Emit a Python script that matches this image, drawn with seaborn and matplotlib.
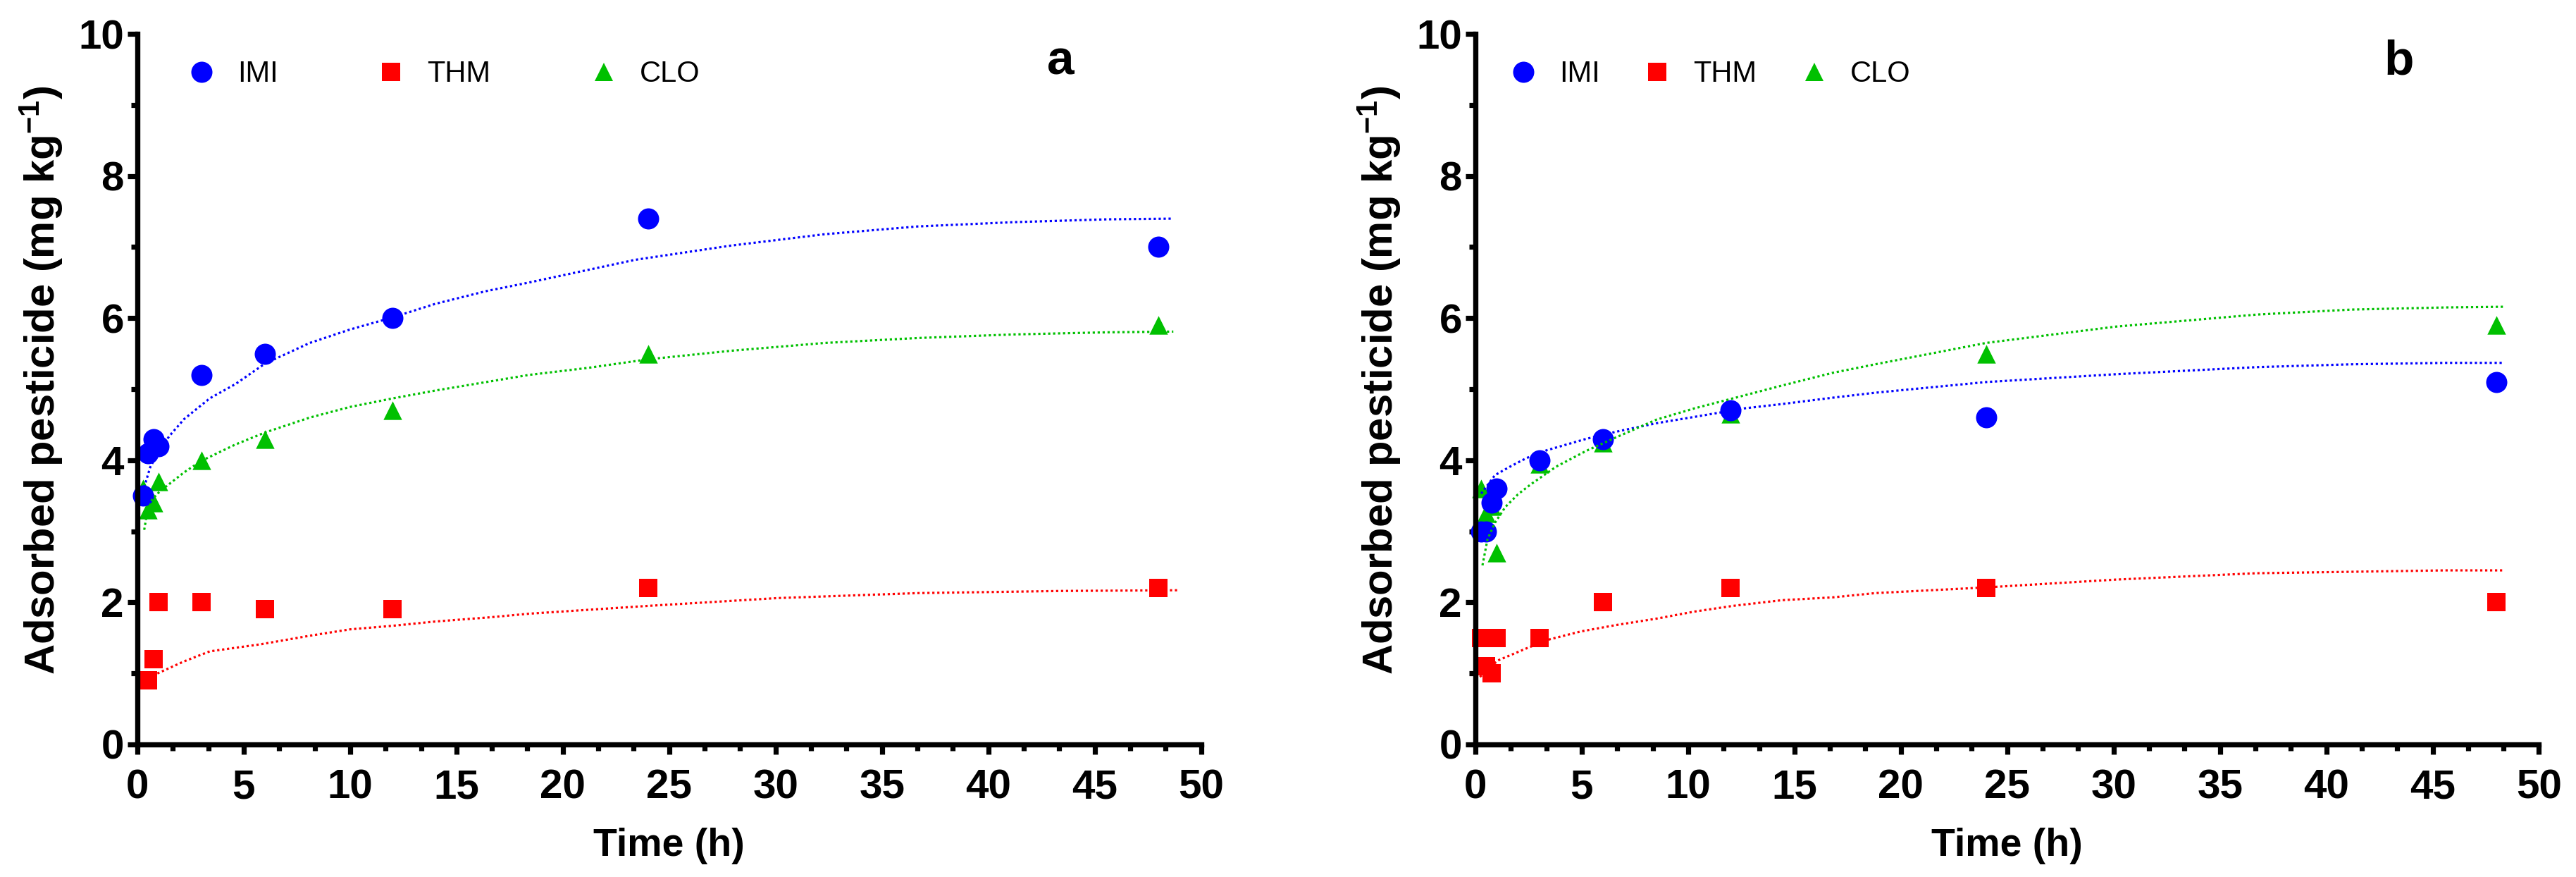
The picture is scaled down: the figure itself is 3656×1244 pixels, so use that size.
import matplotlib
matplotlib.use("Agg")
import matplotlib.pyplot as plt
import seaborn as sns
from matplotlib.lines import Line2D
from matplotlib.ticker import MultipleLocator, AutoMinorLocator

# ---------------- data ----------------
series_names = ["IMI", "THM", "CLO"]

# Panel a
time_a_imi = [0.25, 0.5, 0.75, 1, 3, 6, 12, 24, 48]
imi_a = [3.5, 4.1, 4.3, 4.2, 5.2, 5.5, 6.0, 7.4, 7.0]
time_a_thm = [0.5, 0.75, 1, 3, 6, 12, 24, 48]
thm_a = [0.9, 1.2, 2.0, 2.0, 1.9, 1.9, 2.2, 2.2]
time_a_clo = [0.25, 0.5, 0.75, 1, 3, 6, 12, 24, 48]
clo_a = [3.6, 3.3, 3.4, 3.7, 4.0, 4.3, 4.7, 5.5, 5.9]

# Panel a fitted curves
fit_a_imi_t = [0.32, 0.6, 1.0, 1.5, 2.2, 3.4, 4.6, 6.0, 8.1, 10, 12, 14, 16.4,
               18.4, 23.4, 27.9, 32.3, 36.7, 41.2, 45.6, 48.7]
fit_a_imi_y = [3.62, 3.90, 4.12, 4.34, 4.58, 4.87, 5.07, 5.36, 5.65, 5.84, 6.01,
               6.20, 6.38, 6.50, 6.82, 7.02, 7.18, 7.29, 7.35, 7.39, 7.40]
fit_a_thm_t = [0.2, 0.87, 2.2, 3.4, 5.8, 8.1, 10, 12, 14, 16.6, 18.4, 24,
               30.1, 36.7, 43.4, 48.9]
fit_a_thm_y = [0.83, 0.99, 1.17, 1.31, 1.41, 1.53, 1.62, 1.67, 1.73, 1.79, 1.84,
               1.95, 2.06, 2.13, 2.16, 2.17]
fit_a_clo_t = [0.32, 0.45, 0.7, 1.05, 2.2, 3.0, 4.6, 6.0, 8.1, 10, 12, 14, 16.4,
               18.4, 21.2, 24, 27.9, 32.3, 36.7, 41.2, 45.6, 48.7]
fit_a_clo_y = [3.02, 3.25, 3.45, 3.56, 3.83, 3.99, 4.22, 4.39, 4.60, 4.75, 4.87,
               4.98, 5.10, 5.20, 5.30, 5.42, 5.54, 5.65, 5.72, 5.77, 5.80, 5.81]

# Panel b
time_b = [0.25, 0.5, 0.75, 1, 3, 6, 12, 24, 48]
imi_b = [3.0, 3.0, 3.4, 3.6, 4.0, 4.3, 4.7, 4.6, 5.1]
thm_b = [1.5, 1.1, 1.0, 1.5, 1.5, 2.0, 2.2, 2.2, 2.0]
clo_b = [3.6, 3.25, 3.35, 2.7, 3.95, 4.25, 4.65, 5.5, 5.9]

fit_b_imi_t = [0.27, 0.92, 1.63, 2.4, 3.35, 5.2, 6.6, 8.5, 10.3, 12.65, 14.4,
               16.8, 18.8, 24, 30.1, 36.75, 41.2, 45.6, 48.3]
fit_b_imi_y = [3.53, 3.79, 3.91, 4.03, 4.14, 4.30, 4.40, 4.52, 4.61, 4.73, 4.79,
               4.88, 4.95, 5.10, 5.21, 5.31, 5.35, 5.37, 5.37]
fit_b_thm_t = [0.21, 1.04, 2.46, 3.5, 4.95, 6.6, 8.5, 10.3, 12.1, 14.4, 16.8,
               18.8, 24, 30.1, 36.75, 41.2, 45.6, 48.3]
fit_b_thm_y = [0.95, 1.18, 1.36, 1.48, 1.59, 1.68, 1.77, 1.87, 1.95, 2.03, 2.07,
               2.13, 2.21, 2.32, 2.41, 2.43, 2.45, 2.45]
fit_b_clo_t = [0.33, 0.57, 0.92, 1.4, 2.0, 2.6, 3.8, 5.2, 6.6, 8.5, 10.3, 12.1,
               14.4, 16.8, 18.8, 24, 30.1, 36.75, 41.2, 45.6, 48.4]
fit_b_clo_y = [2.52, 2.89, 3.12, 3.34, 3.52, 3.66, 3.91, 4.13, 4.32, 4.57, 4.73,
               4.87, 5.05, 5.23, 5.35, 5.65, 5.88, 6.05, 6.12, 6.15, 6.16]

x_ticks = [0, 5, 10, 15, 20, 25, 30, 35, 40, 45, 50]
y_ticks = [0, 2, 4, 6, 8, 10]
panel_letters = ["a", "b"]

# ---------------- style ----------------
sns.set_style("ticks")
plt.rcParams["font.family"] = ["Liberation Sans", "DejaVu Sans"]
plt.rcParams["mathtext.fontset"] = "custom"
plt.rcParams["mathtext.rm"] = "Liberation Sans:bold"
plt.rcParams["mathtext.default"] = "regular"
for key in ["text.color", "axes.labelcolor", "xtick.color", "ytick.color",
            "axes.edgecolor", "xtick.labelcolor", "ytick.labelcolor"]:
    plt.rcParams[key] = "black"

BLUE = "#0000FF"
RED = "#FF0000"
GREEN = "#00C000"
colors = {"IMI": BLUE, "THM": RED, "CLO": GREEN}
markers = {"IMI": "o", "THM": "s", "CLO": "^"}
sizes = {"IMI": 21.6, "THM": 19.4, "CLO": 19.0}

fig = plt.figure(figsize=(36.56, 12.44), dpi=100)
ax_a = fig.add_axes([0.05334, 0.15113, 0.41288, 0.81028])
ax_b = fig.add_axes([0.57276, 0.15113, 0.41288, 0.81028])


def draw_panel(ax, pts, fits, letter, leg_x, colspace):
    # markers: triangles first, squares, circles on top
    for name in ["CLO", "THM", "IMI"]:
        t, v = pts[name]
        sns.scatterplot(x=t, y=v, ax=ax, marker=markers[name],
                        s=sizes[name] ** 2, color=colors[name], linewidth=0,
                        clip_on=False, zorder=2.0 if name != "IMI" else 2.1)
    for name in ["IMI", "THM", "CLO"]:
        t, v = fits[name]
        sns.lineplot(x=t, y=v, ax=ax, color=colors[name], sort=False,
                     estimator=None, linewidth=2.3,
                     linestyle=(0, (1, 1.2)), zorder=2.3)

    ax.set_xlim(0, 50)
    ax.set_ylim(0, 10)
    ax.xaxis.set_major_locator(MultipleLocator(5))
    ax.xaxis.set_minor_locator(AutoMinorLocator(3))
    ax.yaxis.set_major_locator(MultipleLocator(2))
    ax.yaxis.set_minor_locator(AutoMinorLocator(2))
    ax.set_xticks(x_ticks)
    ax.set_yticks(y_ticks)
    sns.despine(ax=ax)
    for sp in ["left", "bottom"]:
        ax.spines[sp].set_linewidth(5.3)
        ax.spines[sp].set_color("black")
    ax.tick_params(which="major", direction="out", length=10.3, width=5.2,
                   labelsize=42, color="black", labelcolor="black")
    ax.tick_params(which="minor", direction="out", length=6.8, width=5.2,
                   color="black")
    ax.tick_params(axis="x", which="major", pad=14.4)
    ax.tick_params(axis="y", which="major", pad=3.4)
    for lab in ax.get_xticklabels() + ax.get_yticklabels():
        lab.set_fontweight("bold")

    ax.set_xlabel("Time (h)", fontsize=40, fontweight="bold", va="baseline",
                  color="black")
    ax.set_ylabel("Adsorbed pesticide (mg kg$^{-1}$)", fontsize=43,
                  fontweight="bold", color="black")
    ax.xaxis.set_label_coords(0.5, -0.157)
    ax.yaxis.set_label_coords(-0.068, 0.513)

    handles = [Line2D([], [], linestyle="none", marker=markers[n],
                      markersize=sizes[n], markerfacecolor=colors[n],
                      markeredgewidth=0, color=colors[n])
               for n in series_names]
    ax.legend(handles, series_names, loc="center left",
              bbox_to_anchor=(leg_x, 9.43), bbox_transform=ax.transData,
              ncol=3, frameon=False, fontsize=30, handlelength=1.0,
              handletextpad=0.73, columnspacing=colspace, borderpad=0,
              borderaxespad=0, markerscale=1, labelcolor="black")

    ax.text(43.4, 9.43, letter, fontsize=50, fontweight="bold",
            ha="center", va="baseline", color="black")


draw_panel(ax_a,
           {"IMI": (time_a_imi, imi_a), "THM": (time_a_thm, thm_a),
            "CLO": (time_a_clo, clo_a)},
           {"IMI": (fit_a_imi_t, fit_a_imi_y), "THM": (fit_a_thm_t, fit_a_thm_y),
            "CLO": (fit_a_clo_t, fit_a_clo_y)},
           panel_letters[0], 2.32, 3.35)

draw_panel(ax_b,
           {"IMI": (time_b, imi_b), "THM": (time_b, thm_b),
            "CLO": (time_b, clo_b)},
           {"IMI": (fit_b_imi_t, fit_b_imi_y), "THM": (fit_b_thm_t, fit_b_thm_y),
            "CLO": (fit_b_clo_t, fit_b_clo_y)},
           panel_letters[1], 1.56, 1.45)

fig.savefig("out.png", dpi=100, facecolor="white")
